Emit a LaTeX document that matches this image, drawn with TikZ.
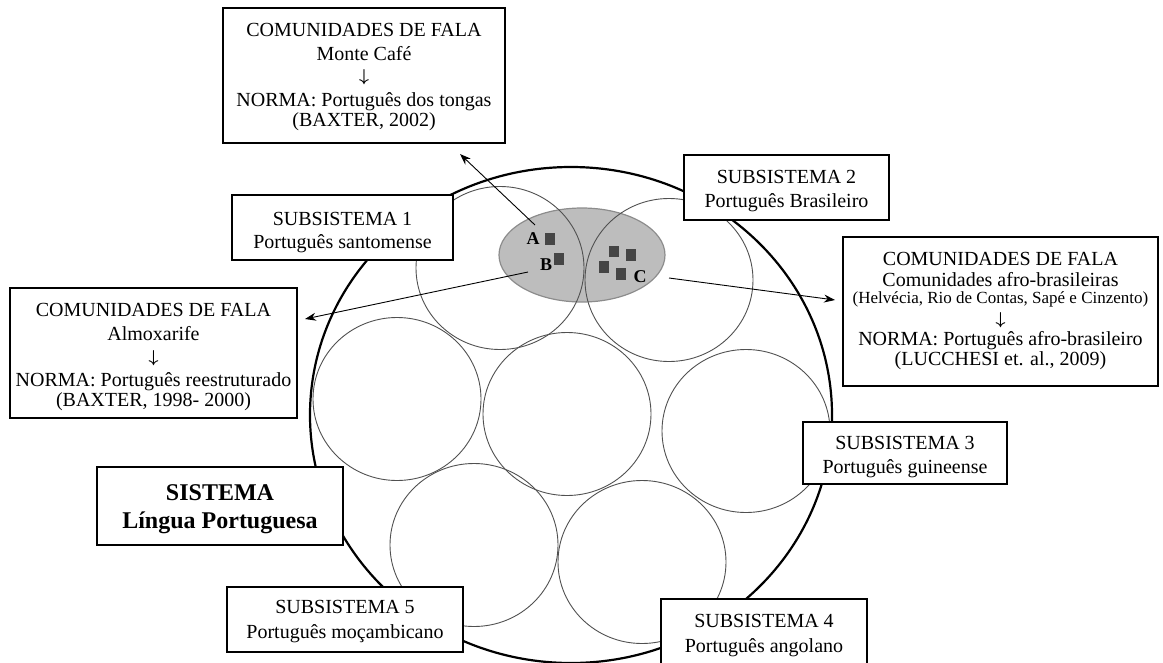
\documentclass[tikz,border=0pt]{standalone}
\usepackage{fontspec}
\setmainfont{Liberation Serif}
\usetikzlibrary{arrows.meta}
\definecolor{ringgray}{HTML}{505050}
\definecolor{blobfill}{HTML}{BDBDBD}
\definecolor{blobedge}{HTML}{8C8C8C}
\definecolor{sqgray}{HTML}{454545}
\begin{document}
\begin{tikzpicture}[x=1pt,y=-1pt,
  bigring/.style={draw=black,line width=2.2pt},
  ring/.style={draw=ringgray,line width=0.9pt},
  frame/.style={draw=black,line width=1.3pt,fill=white,inner sep=0pt},
  boldframe/.style={frame,line width=2.4pt},
  link/.style={draw=black,line width=0.9pt,-{Stealth[length=11pt,width=8pt]}},
  txt/.style={anchor=base,inner sep=0pt,font=\fontsize{20}{24}\selectfont},
  txtsmall/.style={anchor=base,inner sep=0pt,font=\fontsize{17}{20}\selectfont},
  txthead/.style={anchor=base,inner sep=0pt,font=\fontsize{24}{28}\selectfont\bfseries},
  darrow/.style={inner sep=0pt,font=\fontsize{19}{19}\selectfont\boldmath},
  lbl/.style={inner sep=0pt,font=\fontsize{18}{18}\selectfont\bfseries}
]
\useasboundingbox (0,0) rectangle (1163,662);

% system ring
\draw[bigring] (571,415) ellipse [x radius=261pt, y radius=248pt];

% shared area
\draw[draw=blobedge,fill=blobfill,line width=1.2pt] (582,255) ellipse [x radius=83pt, y radius=47pt];

% subsystem circles
\foreach \cx/\cy in {500/268,669/280,397/399,567/414,746/431,474/545,642/562}
  \draw[ring] (\cx,\cy) ellipse [x radius=84pt, y radius=81.5pt];

% squares
\fill[sqgray] (545,233) rectangle (555,245);
\fill[sqgray] (554,253) rectangle (564,265);
\fill[sqgray] (609,246) rectangle (619,257);
\fill[sqgray] (626,249) rectangle (636,261);
\fill[sqgray] (599,261) rectangle (609,273);
\fill[sqgray] (616,268) rectangle (626,280);

\node[lbl] (labA) at (533,239) {A};
\node[lbl] (labB) at (546,265) {B};
\node[lbl] (labC) at (640,277) {C};

% arrow ends
\coordinate (fromA) at (535,225);
\coordinate (toTop) at (460,154);
\coordinate (fromB) at (528,272);
\coordinate (toLeft) at (305,319);
\coordinate (fromC) at (669,278);
\coordinate (toRight) at (835,300);
\draw[link] (fromA) -- (toTop);
\draw[link] (fromB) -- (toLeft);
\draw[link] (fromC) -- (toRight);

% boxes
\node[frame,minimum width=282pt,minimum height=135pt] (topbox) at (364,75.5) {};
\node[frame,minimum width=221pt,minimum height=65pt] (sub1) at (342.5,227.5) {};
\node[frame,minimum width=205pt,minimum height=65pt] (sub2) at (786.5,187.5) {};
\node[frame,minimum width=315pt,minimum height=149pt] (rightbox) at (1000.5,311.5) {};
\node[frame,minimum width=287pt,minimum height=130pt] (leftbox) at (153.5,353) {};
\node[boldframe,minimum width=246pt,minimum height=78pt] (sysbox) at (220,506) {};
\node[frame,minimum width=204pt,minimum height=62pt] (sub3) at (905,453) {};
\node[frame,minimum width=236pt,minimum height=65pt] (sub5) at (345,619.5) {};
\node[frame,minimum width=206pt,minimum height=72pt] (sub4) at (764,635) {};

% top box text
\node[txt] (t1) at (364,36) {COMUNIDADES DE FALA};
\node[txt] (t2) at (364,60) {Monte Café};
\node[darrow] (t3) at (364,77) {$\downarrow$};
\node[txt] (t4) at (364,106) {NORMA: Português dos tongas};
\node[txt] (t5) at (364,126) {(BAXTER, 2002)};

% right box text
\node[txt] (r1) at (1000.5,265) {COMUNIDADES DE FALA};
\node[txt] (r2) at (1000.5,286) {Comunidades afro-brasileiras};
\node[txtsmall] (r3) at (1000.5,303.5) {(Helvécia, Rio de Contas, Sapé e Cinzento)};
\node[darrow] (r4) at (1000.5,320) {$\downarrow$};
\node[txt] (r5) at (1000.5,345) {NORMA: Português afro-brasileiro};
\node[txt] (r6) at (1000.5,365) {(LUCCHESI et. al., 2009)};

% left box text
\node[txt] (l1) at (153.5,316.5) {COMUNIDADES DE FALA};
\node[txt] (l2) at (153.5,340) {Almoxarife};
\node[darrow] (l3) at (153.5,358) {$\downarrow$};
\node[txt] (l4) at (153.5,386.5) {NORMA: Português reestruturado};
\node[txt] (l5) at (153.5,406.5) {(BAXTER, 1998- 2000)};

% system box text
\node[txthead] (s1) at (220,500) {SISTEMA};
\node[txthead] (s2) at (220,528) {Língua Portuguesa};

% subsystems text
\node[txt] (a1) at (342.5,225) {SUBSISTEMA 1};
\node[txt] (a2) at (342.5,248) {Português santomense};
\node[txt] (b1) at (786.5,183) {SUBSISTEMA 2};
\node[txt] (b2) at (786.5,207) {Português Brasileiro};
\node[txt] (c1) at (905,449) {SUBSISTEMA 3};
\node[txt] (c2) at (905,473) {Português guineense};
\node[txt] (d1) at (764,627) {SUBSISTEMA 4};
\node[txt] (d2) at (764,652) {Português angolano};
\node[txt] (e1) at (345,613) {SUBSISTEMA 5};
\node[txt] (e2) at (345,638) {Português moçambicano};
\end{tikzpicture}
\end{document}
